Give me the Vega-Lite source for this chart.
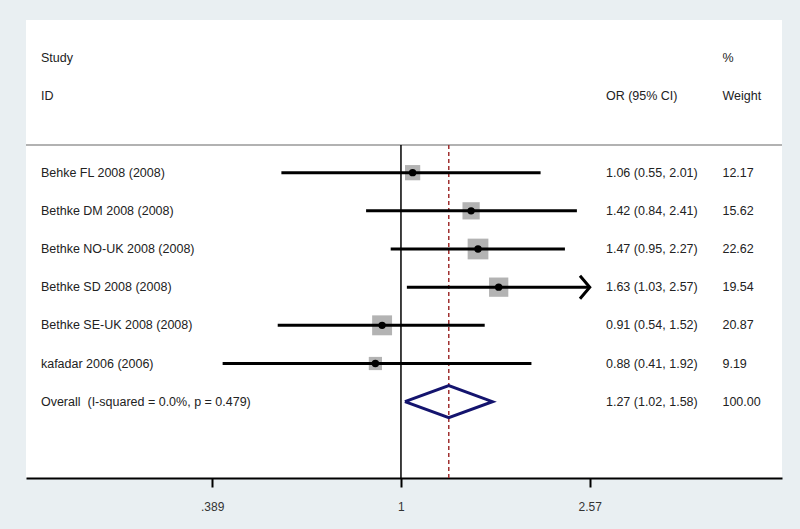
{
  "$schema": "https://vega.github.io/schema/vega-lite/v6.json",
  "width": 756,
  "height": 458,
  "autosize": {"type": "none"},
  "padding": {"left": 26, "top": 20, "right": 18, "bottom": 51},
  "background": "#e9eff2",
  "view": {"fill": "white", "stroke": null},
  "config": {"text": {"font": "Liberation Sans", "fontSize": 12.5, "color": "#222222", "align": "left", "baseline": "middle"}},
  "datasets": {
    "studies": [
      {"label": "Behke FL 2008 (2008)", "row": 0, "or": 1.06, "lo": 0.55, "hi": 2.01, "w": 12.17, "ci": "1.06 (0.55, 2.01)"},
      {"label": "Bethke DM 2008 (2008)", "row": 1, "or": 1.42, "lo": 0.84, "hi": 2.41, "w": 15.62, "ci": "1.42 (0.84, 2.41)"},
      {"label": "Bethke NO-UK 2008 (2008)", "row": 2, "or": 1.47, "lo": 0.95, "hi": 2.27, "w": 22.62, "ci": "1.47 (0.95, 2.27)"},
      {"label": "Bethke SD 2008 (2008)", "row": 3, "or": 1.63, "lo": 1.03, "hi": 2.57, "w": 19.54, "ci": "1.63 (1.03, 2.57)"},
      {"label": "Bethke SE-UK 2008 (2008)", "row": 4, "or": 0.91, "lo": 0.54, "hi": 1.52, "w": 20.87, "ci": "0.91 (0.54, 1.52)"},
      {"label": "kafadar 2006 (2006)", "row": 5, "or": 0.88, "lo": 0.41, "hi": 1.92, "w": 9.19, "ci": "0.88 (0.41, 1.92)"}
    ],
    "overall": [
      {"label": "Overall \u00a0(I-squared = 0.0%, p = 0.479)", "row": 6, "or": 1.27, "lo": 1.02, "hi": 1.58, "w": 100.0, "ci": "1.27 (1.02, 1.58)"}
    ],
    "diamond": [
      {"x": 1.02, "h": 0, "o": 0},
      {"x": 1.27, "h": -1, "o": 1},
      {"x": 1.58, "h": 0, "o": 2},
      {"x": 1.27, "h": 1, "o": 3},
      {"x": 1.02, "h": 0, "o": 4}
    ],
    "headers": [
      {"text": "Study", "col": "study", "row": -3},
      {"text": "ID", "col": "study", "row": -2},
      {"text": "OR (95% CI)", "col": "ci", "row": -2},
      {"text": "%", "col": "weight", "row": -3},
      {"text": "Weight", "col": "weight", "row": -2}
    ]
  },
  "layer": [
    {
      "data": {"name": "overall"},
      "mark": {"type": "rule", "color": "#999999", "strokeWidth": 1.5},
      "encoding": {"y": {"datum": -0.725, "type": "quantitative", "scale": {"domain": [-4, 8], "reverse": true, "nice": false, "zero": false}, "axis": null}}
    },
    {
      "data": {"name": "overall"},
      "mark": {"type": "rule", "color": "black", "strokeWidth": 1.5},
      "encoding": {
        "x": {"datum": 1, "type": "quantitative", "scale": {"type": "log", "domain": [0.1534, 6.72], "nice": false},
          "axis": {"values": [0.389, 1, 2.57], "labelExpr": "datum.value < 0.5 ? '.389' : datum.value < 1.5 ? '1' : '2.57'",
            "title": null, "grid": false, "domainColor": "black", "domainWidth": 2, "tickColor": "black", "tickWidth": 2, "tickSize": 9,
            "labelFont": "Liberation Sans", "labelFontSize": 12, "labelColor": "#333333", "labelPadding": 14}},
        "y": {"datum": -0.725, "type": "quantitative"},
        "y2": {"datum": 8}
      }
    },
    {
      "data": {"name": "overall"},
      "mark": {"type": "rule", "color": "#a03030", "strokeWidth": 1.5, "strokeDash": [4, 3]},
      "encoding": {
        "x": {"field": "or", "type": "quantitative"},
        "y": {"datum": -0.725, "type": "quantitative"},
        "y2": {"datum": 8}
      }
    },
    {
      "data": {"name": "studies"},
      "mark": {"type": "point", "shape": "square", "filled": true, "color": "#b3b3b3", "opacity": 1},
      "encoding": {
        "x": {"field": "or", "type": "quantitative"},
        "y": {"field": "row", "type": "quantitative"},
        "size": {"field": "w", "type": "quantitative", "scale": {"domain": [0, 22.62], "range": [0, 430]}, "legend": null}
      }
    },
    {
      "data": {"name": "studies"},
      "mark": {"type": "rule", "color": "black", "strokeWidth": 3},
      "encoding": {
        "x": {"field": "lo", "type": "quantitative"},
        "x2": {"field": "hi"},
        "y": {"field": "row", "type": "quantitative"}
      }
    },
    {
      "data": {"name": "studies"},
      "mark": {"type": "point", "shape": "circle", "filled": true, "color": "black", "opacity": 1, "size": 55},
      "encoding": {
        "x": {"field": "or", "type": "quantitative"},
        "y": {"field": "row", "type": "quantitative"}
      }
    },
    {
      "data": {"name": "studies"},
      "transform": [{"filter": "datum.hi >= 2.57"}],
      "mark": {"type": "point", "shape": "M -0.85 -1 L 0 0 L -0.85 1", "filled": false, "color": "black", "strokeWidth": 3, "opacity": 1, "size": 530},
      "encoding": {
        "x": {"field": "hi", "type": "quantitative"},
        "y": {"field": "row", "type": "quantitative"}
      }
    },
    {
      "data": {"name": "diamond"},
      "mark": {"type": "line", "color": "#14146e", "strokeWidth": 3, "strokeJoin": "miter"},
      "encoding": {
        "x": {"field": "x", "type": "quantitative"},
        "y": {"datum": 6, "type": "quantitative"},
        "yOffset": {"field": "h", "type": "quantitative", "scale": {"domain": [-1, 1], "range": [-16, 16]}},
        "order": {"field": "o", "type": "quantitative"}
      }
    },
    {
      "data": {"name": "studies"},
      "mark": {"type": "text"},
      "encoding": {"x": {"datum": 0.1653, "type": "quantitative"}, "y": {"field": "row", "type": "quantitative"}, "text": {"field": "label"}}
    },
    {
      "data": {"name": "overall"},
      "mark": {"type": "text"},
      "encoding": {"x": {"datum": 0.1653, "type": "quantitative"}, "y": {"field": "row", "type": "quantitative"}, "text": {"field": "label"}}
    },
    {
      "data": {"name": "studies"},
      "mark": {"type": "text"},
      "encoding": {"x": {"datum": 2.787, "type": "quantitative"}, "y": {"field": "row", "type": "quantitative"}, "text": {"field": "ci"}}
    },
    {
      "data": {"name": "overall"},
      "mark": {"type": "text"},
      "encoding": {"x": {"datum": 2.787, "type": "quantitative"}, "y": {"field": "row", "type": "quantitative"}, "text": {"field": "ci"}}
    },
    {
      "data": {"name": "studies"},
      "mark": {"type": "text"},
      "encoding": {"x": {"datum": 4.99, "type": "quantitative"}, "y": {"field": "row", "type": "quantitative"}, "text": {"field": "w", "format": ".2f"}}
    },
    {
      "data": {"name": "overall"},
      "mark": {"type": "text"},
      "encoding": {"x": {"datum": 4.99, "type": "quantitative"}, "y": {"field": "row", "type": "quantitative"}, "text": {"field": "w", "format": ".2f"}}
    },
    {
      "data": {"name": "headers"},
      "transform": [{"filter": "datum.col == 'study'"}],
      "mark": {"type": "text"},
      "encoding": {"x": {"datum": 0.1653, "type": "quantitative"}, "y": {"field": "row", "type": "quantitative"}, "text": {"field": "text"}}
    },
    {
      "data": {"name": "headers"},
      "transform": [{"filter": "datum.col == 'ci'"}],
      "mark": {"type": "text"},
      "encoding": {"x": {"datum": 2.787, "type": "quantitative"}, "y": {"field": "row", "type": "quantitative"}, "text": {"field": "text"}}
    },
    {
      "data": {"name": "headers"},
      "transform": [{"filter": "datum.col == 'weight'"}],
      "mark": {"type": "text"},
      "encoding": {"x": {"datum": 4.99, "type": "quantitative"}, "y": {"field": "row", "type": "quantitative"}, "text": {"field": "text"}}
    }
  ]
}
